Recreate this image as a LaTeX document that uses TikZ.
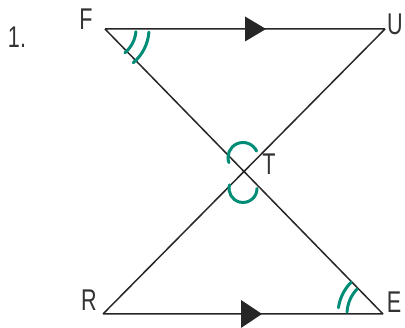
\documentclass[tikz,border=0pt]{standalone}
\usepackage{fontspec}
\setmainfont{Liberation Sans}[FakeStretch=0.72]
\usetikzlibrary{calc}
\definecolor{markteal}{RGB}{0,140,118}
\begin{document}
\begin{tikzpicture}[x=1pt,y=1pt,
	seg/.style={line width=1.5pt, black!85},
	angmark/.style={line width=3pt, markteal, line cap=round},
	lbl/.style={font=\fontsize{30}{30}\selectfont, text=black!80, inner sep=0pt}]
	\useasboundingbox (0,0) rectangle (405,328);
	\coordinate (F) at (105,299);
	\coordinate (U) at (385,299);
	\coordinate (R) at (103,14);
	\coordinate (E) at (383,14);
	\coordinate (T) at (intersection of F--E and U--R);
	\draw[seg] (R) -- (E) (F) -- (U) (F) -- (E) (U) -- (R);
	% parallel marks
	\fill[black!85] ($(F)!.5!(U)$) ++(0,12.5) -- ++(21,-12.5) -- ++(-21,-12.5) -- cycle;
	\fill[black!85] ($(R)!.5!(E)$) ++(-2,14) -- ++(21,-14) -- ++(-21,-14) -- cycle;
	% angle marks
	\draw[angmark] (F) ++(-5:31) arc[start angle=-5, end angle=-50, radius=31];
	\draw[angmark] (F) ++(-4:44) arc[start angle=-4, end angle=-50, radius=44];
	\draw[angmark] (E) ++(177:36) arc[start angle=177, end angle=136, radius=36];
	\draw[angmark] (E) ++(172:45) arc[start angle=172, end angle=135, radius=45];
	\draw[angmark] (T) ++(-1,14) ++(25:15) arc[start angle=25, end angle=200, radius=15];
	\draw[angmark] (T) ++(-1,-17) ++(165:14) arc[start angle=165, end angle=360, radius=14];
	% labels
	\node[lbl] (num) at (17,291) {1.};
	\node[lbl] (lF) at (86,309) {F};
	\node[lbl] (lU) at (395,304) {U};
	\node[lbl] (lT) at (269,164) {T};
	\node[lbl] (lR) at (89,28) {R};
	\node[lbl] (lE) at (394,26) {E};
\end{tikzpicture}
\end{document}
